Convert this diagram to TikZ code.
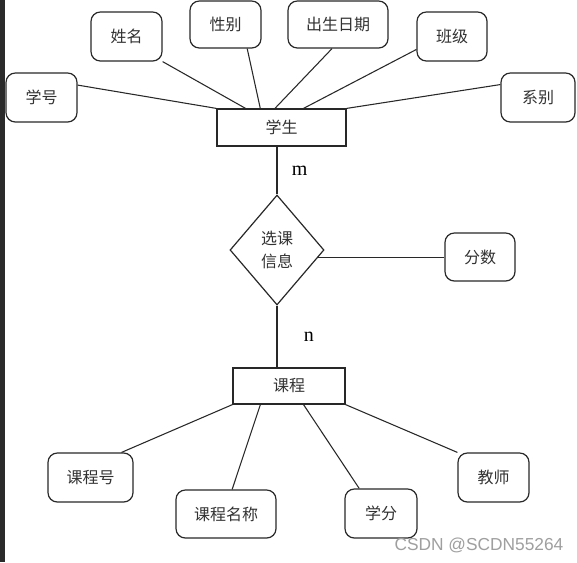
\documentclass[tikz,border=0pt]{standalone}
\usepackage{fontspec}
\setmainfont{Liberation Serif}
\newfontfamily\zhfont{Noto Sans CJK SC}
\newfontfamily\wmfont{Liberation Sans}
\usetikzlibrary{shapes.geometric}
\definecolor{edgegray}{RGB}{40,40,40}
\definecolor{textgray}{RGB}{50,50,50}
\definecolor{bargray}{RGB}{43,43,43}

\begin{document}
\begin{tikzpicture}[
  x=0.75pt, y=-0.75pt,
  font=\zhfont\fontsize{12}{16}\selectfont,
  attr/.style={draw=edgegray, rounded corners=7pt, line width=0.9pt, text=textgray,
               minimum width=53.25pt, minimum height=36.75pt, inner sep=2pt},
  ent/.style={draw=edgegray, line width=0.9pt, text=textgray,
              minimum height=27.75pt, inner sep=2pt},
  rel/.style={draw=edgegray, diamond, line width=0.9pt, text=textgray, align=center,
              minimum width=70.5pt, minimum height=82.5pt, inner sep=0pt,
              font=\zhfont\fontsize{12}{17}\selectfont},
  ln/.style={edgegray, line width=0.8pt},
  tk/.style={edgegray, line width=1.8pt},
  card/.style={font=\fontsize{15}{17}\selectfont, text=black},
]
  \useasboundingbox (0,0) rectangle (577,562);
  \fill[white] (0,0) rectangle (577,562);
  \fill[bargray] (0,0) rectangle (5,562);

  \node[attr] (xh) at (41.5,97.5) {学号};
  \node[attr] (xm) at (126.5,36.5) {姓名};
  \node[attr, minimum height=35.25pt] (xb) at (225.5,24.5) {性别};
  \node[attr, minimum width=75pt, minimum height=35.25pt] (csrq) at (338,24.5) {出生日期};
  \node[attr, minimum width=52.5pt] (bj) at (452,36.5) {班级};
  \node[attr, minimum width=55.5pt] (xib) at (538,97.5) {系别};
  \node[ent, minimum width=96.75pt] (xs) at (281.5,127.5) {学生};

  \node[rel] (xk) at (277,250) {选课\\信息};
  \node[attr, minimum width=52.5pt, minimum height=36pt] (fs) at (480,257) {分数};

  \node[ent, minimum width=84pt, minimum height=27pt] (kc) at (289,386) {课程};
  \node[attr, minimum width=63.75pt] (kch) at (90.5,477.5) {课程号};
  \node[attr, minimum width=75pt, minimum height=36pt] (kcmc) at (226,514) {课程名称};
  \node[attr, minimum width=54pt] (xf) at (381,513.5) {学分};
  \node[attr] (js) at (493.5,477.5) {教师};

  % student attributes
  \draw[ln] (xh.19) -- (xs.north west);
  \draw[ln] (xm.south east) -- (xs.152);
  \draw[ln] (xb.-48) -- (xs.138);
  \draw[ln] (csrq.-104) -- (xs.109);
  \draw[ln] (bj.200) -- (xs.41);
  \draw[ln] (xib.161) -- (xs.north east);

  % relationship
  \draw[tk] (xs.south -| xk.north) -- node[card, right=7pt]{m} (xk.north);
  \draw[tk] (xk.south) -- node[card, right=16pt]{n} (xk.south |- kc.north);
  \draw[ln] (xk.-10) -- (xk.-10 -| fs.west);

  % course attributes
  \draw[ln] (kch.39) -- (kc.south west);
  \draw[ln] (kcmc.76) -- (kc.213);
  \draw[ln] (xf.131) -- (kc.-52);
  \draw[ln] (js.north west) -- (kc.south east);

  \node[font=\wmfont\fontsize{13}{15}\selectfont, text=gray!75] (wm) at (479,545) {CSDN @SCDN55264};
\end{tikzpicture}
\end{document}
